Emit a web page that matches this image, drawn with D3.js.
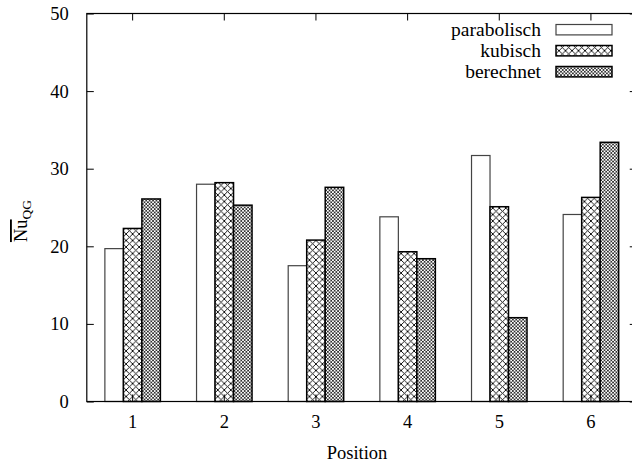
<!DOCTYPE html>
<html>
<head>
<meta charset="utf-8">
<script src="https://cdn.jsdelivr.net/npm/d3@7/dist/d3.min.js"></script>
<style>
  html, body { margin: 0; padding: 0; background: #fff; }
  svg { display: block; }
  svg text { font-family: "Liberation Serif", "Times New Roman", Times, serif; fill: #000; }
</style>
</head>
<body>
<svg id="chart" width="632" height="464"></svg>
<script>
// Positions along the x axis
const positions = [1, 2, 3, 4, 5, 6];
// Series names (legend order)
const seriesNames = ["parabolisch", "kubisch", "berechnet"];
// Mean Nusselt number per position
const parabolisch = [19.7, 28.0, 17.5, 23.8, 31.7, 24.1];
const kubisch     = [22.3, 28.2, 20.8, 19.3, 25.1, 26.3];
const berechnet   = [26.1, 25.3, 27.6, 18.4, 10.8, 33.4];
const yTicks = [0, 10, 20, 30, 40, 50];

const seriesValues = { parabolisch, kubisch, berechnet };
const fills = { parabolisch: "#fff", kubisch: "url(#hatchWide)", berechnet: "url(#hatchFine)" };
const serif = "'Liberation Serif', 'Times New Roman', Times, serif";

const svg = d3.select("#chart");
const plotL = 86.8, plotT = 13.5, plotB = 401.5;
const step = 91.66;
const plotR = plotL + step * positions.length;

// hatch patterns
const defs = svg.append("defs");
function hatch(id, size, sw) {
  const p = defs.append("pattern").attr("id", id)
    .attr("patternUnits", "userSpaceOnUse")
    .attr("width", size).attr("height", size);
  p.append("rect").attr("width", size).attr("height", size).attr("fill", "#fff");
  p.append("path")
    .attr("d", `M0,0L${size},${size}M0,${size}L${size},0`)
    .attr("stroke", "#000").attr("stroke-width", sw).attr("fill", "none");
}
hatch("hatchWide", 6.5, 0.9);
hatch("hatchFine", 3.4, 0.7);

const x = d3.scaleBand().domain(positions).range([plotL, plotR]).padding(0);
const barW = 18.5;
const xSub = d3.scaleBand().domain(seriesNames)
  .range([-barW * 1.5, barW * 1.5]).padding(0);
const y = d3.scaleLinear().domain([0, 50]).range([plotB, plotT]);

// bars
const groups = svg.append("g").selectAll("g").data(positions).join("g")
  .attr("transform", d => `translate(${x(d) + x.bandwidth() / 2},0)`);
groups.selectAll("rect")
  .data((d, i) => seriesNames.map(s => ({ s, v: seriesValues[s][i] })))
  .join("rect")
  .attr("x", d => xSub(d.s))
  .attr("width", xSub.bandwidth())
  .attr("y", d => y(d.v))
  .attr("height", d => plotB - y(d.v))
  .attr("fill", d => fills[d.s])
  .attr("stroke", d => d.s === "parabolisch" ? "#444" : "#000")
  .attr("stroke-width", d => d.s === "parabolisch" ? 1.2 : 1.5);

// frame
svg.append("rect").attr("x", plotL).attr("y", plotT)
  .attr("width", plotR - plotL).attr("height", plotB - plotT)
  .attr("fill", "none").attr("stroke", "#000").attr("stroke-width", 1.2);

// y axis (ticks inward, mirrored on the right)
const yAxis = d3.axisLeft(y).tickValues(yTicks).tickSize(-7).tickPadding(18);
const ya = svg.append("g").attr("transform", `translate(${plotL},0)`).call(yAxis)
  .attr("font-family", serif).attr("font-size", 18);
ya.select(".domain").remove();
ya.selectAll("text").style("font-family", serif).style("font-size", "18.5px");
const yaR = svg.append("g").attr("transform", `translate(${plotR},0)`)
  .call(d3.axisRight(y).tickValues(yTicks).tickSize(-7).tickFormat(""));
yaR.select(".domain").remove();

// x axis
const xAxis = d3.axisBottom(x).tickSize(-7).tickPadding(13);
const xa = svg.append("g").attr("transform", `translate(0,${plotB})`).call(xAxis)
  .attr("font-family", serif).attr("font-size", 18);
xa.select(".domain").remove();
xa.selectAll("text").style("font-family", serif).style("font-size", "18.5px");
const xaT = svg.append("g").attr("transform", `translate(0,${plotT})`)
  .call(d3.axisTop(x).tickSize(-7).tickFormat(""));
xaT.select(".domain").remove();

// axis titles
svg.append("text").attr("x", 357).attr("y", 459)
  .attr("text-anchor", "middle").style("font-family", serif).style("font-size", "18.5px")
  .text("Position");

const yl = svg.append("text")
  .attr("transform", "translate(27,221) rotate(-90)")
  .attr("text-anchor", "middle").style("font-family", serif).style("font-size", "18.5px");
yl.append("tspan").attr("text-decoration", "overline").text("Nu");
yl.append("tspan").attr("dy", 4).style("font-size", "13.5px").text("QG");

// legend
const leg = svg.append("g").selectAll("g").data(seriesNames).join("g")
  .attr("transform", (d, i) => `translate(0,${29.7 + i * 21})`);
leg.append("text").attr("x", 541).attr("y", 6)
  .attr("text-anchor", "end").style("font-family", serif).style("font-size", "19.5px")
  .text(d => d);
leg.append("rect").attr("x", 556).attr("y", -5.2)
  .attr("width", 56).attr("height", 10.4)
  .attr("fill", d => fills[d])
  .attr("stroke", d => d === "parabolisch" ? "#444" : "#000")
  .attr("stroke-width", d => d === "parabolisch" ? 1.2 : 1.5);
</script>
</body>
</html>
